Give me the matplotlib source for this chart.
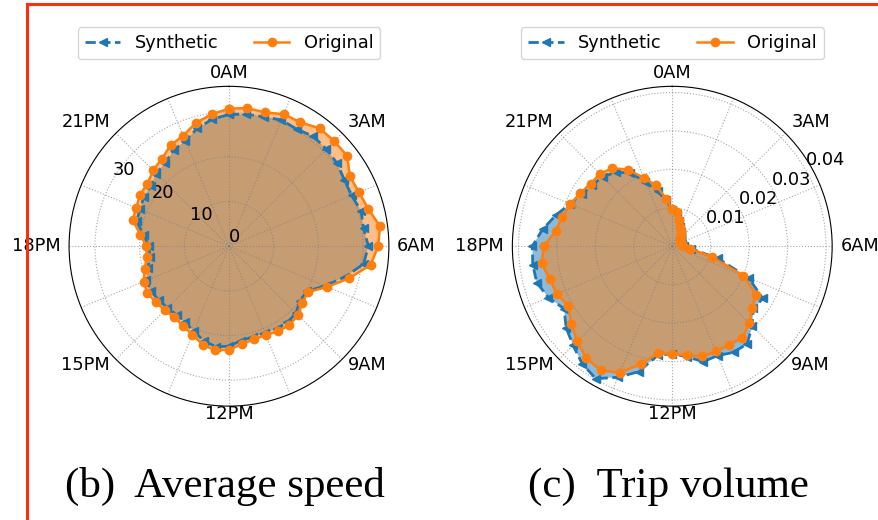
import matplotlib
matplotlib.use("Agg")
import matplotlib.pyplot as plt
import numpy as np
from matplotlib.lines import Line2D

# 48 half-hour slots over the day, clockwise from midnight
slots = np.arange(48) * 0.5
hour_labels = ["0AM", "3AM", "6AM", "9AM", "12PM", "15PM", "18PM", "21PM"]

speed_original = [30.8, 31.2, 31.0, 32.0, 32.0, 33.3, 33.3, 33.3, 31.3, 31.5, 32.3, 34.1,
                  33.4, 32.0, 27.8, 23.8, 20.5, 20.7, 21.9, 22.2, 22.0, 21.5, 21.6, 22.1,
                  23.2, 23.5, 22.8, 21.4, 20.6, 20.1, 20.3, 20.6, 21.1, 20.7, 19.5, 18.6,
                  18.5, 20.0, 22.3, 22.5, 23.0, 23.0, 24.0, 24.7, 26.1, 26.8, 28.6, 29.8]
speed_synthetic = [29.5, 29.8, 30.0, 30.6, 30.3, 31.0, 30.8, 30.5, 29.8, 29.7, 30.6, 30.4,
                   31.2, 30.4, 26.8, 23.2, 20.2, 20.0, 21.2, 21.5, 21.3, 21.0, 21.0, 21.3,
                   22.4, 22.7, 21.9, 20.6, 19.7, 19.3, 19.5, 19.8, 20.2, 20.0, 18.8, 17.9,
                   17.9, 19.3, 21.4, 21.6, 22.0, 22.1, 23.0, 23.5, 24.8, 25.6, 27.3, 28.7]

volume_original = [0.0097, 0.0090, 0.0070, 0.0055, 0.0045, 0.0036, 0.0030, 0.0027,
                   0.0025, 0.0024, 0.0024, 0.0025, 0.0028, 0.0046, 0.0107, 0.0200,
                   0.0252, 0.0262, 0.0284, 0.0300, 0.0296, 0.0296, 0.0297, 0.0286,
                   0.0281, 0.0281, 0.0318, 0.0356, 0.0373, 0.0367, 0.0350, 0.0331,
                   0.0312, 0.0325, 0.0330, 0.0343, 0.0334, 0.0306, 0.0296, 0.0287,
                   0.0276, 0.0268, 0.0266, 0.0256, 0.0230, 0.0192, 0.0164, 0.0125]
volume_synthetic = [0.0095, 0.0085, 0.0068, 0.0054, 0.0044, 0.0036, 0.0031, 0.0028,
                    0.0026, 0.0025, 0.0025, 0.0026, 0.0030, 0.0050, 0.0122, 0.0215,
                    0.0272, 0.0266, 0.0294, 0.0320, 0.0319, 0.0308, 0.0311, 0.0290,
                    0.0280, 0.0286, 0.0338, 0.0369, 0.0398, 0.0385, 0.0365, 0.0348,
                    0.0325, 0.0349, 0.0365, 0.0366, 0.0364, 0.0340, 0.0313, 0.0288,
                    0.0272, 0.0262, 0.0256, 0.0242, 0.0221, 0.0182, 0.0148, 0.0120]

speed_ticks = [0, 10, 20, 30]
volume_ticks = [0.01, 0.02, 0.03, 0.04]

FS = 12.8


def closed(vals):
    vals = np.asarray(vals, dtype=float)
    return np.append(vals, vals[0])


def radar(ax, synthetic, original, rticks, rmax, rlabel_pos):
    theta = closed(slots / 24.0 * 2 * np.pi)
    ax.set_theta_zero_location("N")
    ax.set_theta_direction(-1)

    syn, orig = closed(synthetic), closed(original)
    ax.fill(theta, syn, color="C0", alpha=0.5, lw=0)
    ax.fill(theta, orig, color="C1", alpha=0.5, lw=0)
    ax.plot(theta, syn, "--", color="C0", marker="<", ms=6, lw=2, label="Synthetic")
    ax.plot(theta, orig, "-", color="C1", marker="o", ms=6, lw=1.8, label="Original")

    angles = np.arange(0, 360, 22.5)
    ax.set_xticks(np.deg2rad(angles))
    labels = ax.set_xticklabels([lab for h in hour_labels for lab in (h, "")], fontsize=FS)
    ax.tick_params(axis="x", pad=-1, length=0)
    # anchor each hour label on the side facing away from the circle
    for ang, lab in zip(angles, labels):
        s, c = np.sin(np.deg2rad(ang)), np.cos(np.deg2rad(ang))
        lab.set_ha("left" if s > 0.1 else "right" if s < -0.1 else "center")
        lab.set_va("baseline" if c > 0.1 else "center")

    ax.set_ylim(0, rmax)
    ax.set_yticks(rticks)
    ax.set_yticklabels([f"{t:g}" for t in rticks], fontsize=FS)
    ax.set_rlabel_position(rlabel_pos)
    ax.grid(True, color="grey", linestyle=":", linewidth=0.8, alpha=0.7)
    ax.legend(loc="lower center", bbox_to_anchor=(0.5, 1.084), ncol=2,
              fontsize=FS, borderaxespad=0)


fig = plt.figure(figsize=(8.79, 5.2), dpi=100)
ax_speed = fig.add_axes([0.0785, 0.219, 0.364, 0.615], projection="polar")
ax_volume = fig.add_axes([0.5828, 0.219, 0.364, 0.615], projection="polar")

radar(ax_speed, speed_synthetic, speed_original, speed_ticks, 35.8, 300)
radar(ax_volume, volume_synthetic, volume_original, volume_ticks, 0.0416, 60)

fig.text(0.256, 0.044, "(b)  Average speed", family="Liberation Serif",
         fontsize=31, ha="center", va="baseline")
fig.text(0.760, 0.044, "(c)  Trip volume", family="Liberation Serif",
         fontsize=31, ha="center", va="baseline")

# red frame of the source screenshot
fig.add_artist(Line2D([0.031, 1.0], [0.992, 0.992], color="#ff2d0f", lw=2.2))
fig.add_artist(Line2D([0.031, 0.031], [0.0, 0.992], color="#ff2d0f", lw=2.2))

fig.savefig("out.png", dpi=100)
